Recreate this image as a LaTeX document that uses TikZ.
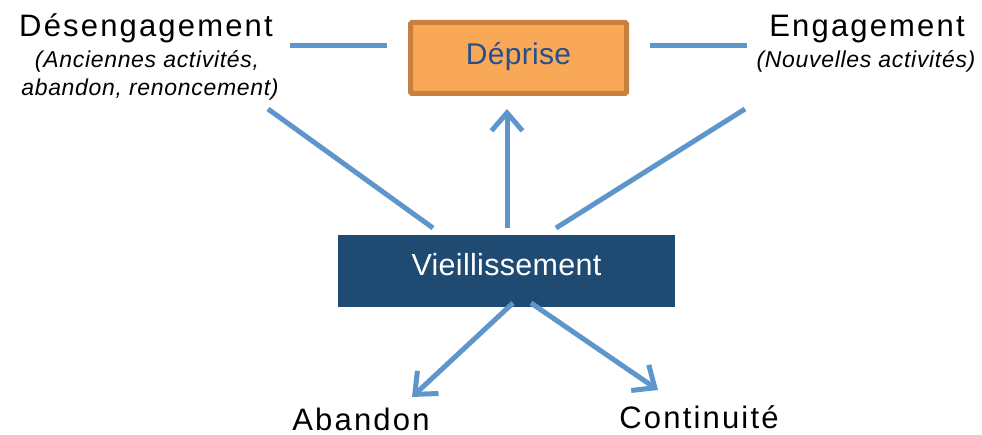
\documentclass[tikz,border=0pt]{standalone}
\usepackage{fontspec}
\setmainfont{Liberation Sans}
\newfontfamily\titlefont[LetterSpace=7]{Liberation Sans}
\newfontfamily\subfont[LetterSpace=3]{Liberation Sans}
\newfontfamily\boxfont[LetterSpace=1]{Liberation Sans}
\usetikzlibrary{arrows.meta}
\definecolor{linkblue}{HTML}{5E96CC}
\definecolor{boxorange}{HTML}{F8A857}
\definecolor{boxorangeb}{HTML}{C8803F}
\definecolor{boxnavy}{HTML}{1F4A72}
\definecolor{textblue}{HTML}{27508A}
\tikzset{
  link/.style={draw=linkblue,line width=5pt},
  arrowlink/.style={link,-{Straight Barb[length=18pt,width=31pt,line width=5pt]}},
  titletext/.style={font=\titlefont\fontsize{31}{34}\selectfont,anchor=base,inner sep=0pt},
  subtext/.style={font=\subfont\itshape\fontsize{23}{28}\selectfont,anchor=base,inner sep=0pt},
  orangebox/.style={draw=boxorangeb,fill=boxorange,line width=5pt,rounded corners=1.5pt,
    minimum width=216pt,minimum height=71pt,text=textblue,text depth=9.5pt,
    font=\boxfont\fontsize{30}{32}\selectfont},
  navybox/.style={fill=boxnavy,minimum width=337pt,minimum height=72pt,text=white,
    text depth=14pt,font=\boxfont\fontsize{30.5}{32}\selectfont}
}
\begin{document}
\begin{tikzpicture}[x=1pt,y=-1pt]
\useasboundingbox (0,0) rectangle (982,435);
% boxes
\node[orangebox] (deprise) at (518.5,58) {Déprise};
\node[navybox] (vieil) at (506.5,271) {Vieillissement};
% texts
\node[titletext] (des) at (146,37) {Désengagement};
\node[subtext] (des1) at (147,68) {(Anciennes activités,};
\node[subtext] (des2) at (150,96) {abandon, renoncement)};
\node[titletext] (eng) at (867,37) {Engagement};
\node[subtext] (eng1) at (866,68) {(Nouvelles activités)};
\node[titletext] (aba) at (361,430) {Abandon};
\node[titletext] (con) at (699,428) {Continuité};
% connector end points
\coordinate (hl1) at (290,46);
\coordinate (hl2) at (387,46);
\coordinate (hr1) at (650,46);
\coordinate (hr2) at (747,46);
\coordinate (dl1) at (268,109);
\coordinate (dl2) at (433,228);
\coordinate (dr1) at (745,109);
\coordinate (dr2) at (556,228);
\coordinate (up1) at (507,228);
\coordinate (up2) at (507,109);
\coordinate (ba1) at (513,303);
\coordinate (ba2) at (412,397);
\coordinate (bc1) at (531,303);
\coordinate (bc2) at (658,390);
% connectors
\draw[link] (hl1) -- (hl2);
\draw[link] (hr1) -- (hr2);
\draw[link] (dl1) -- (dl2);
\draw[link] (dr1) -- (dr2);
\draw[arrowlink] (up1) -- (up2);
\draw[arrowlink] (ba1) -- (ba2);
\draw[arrowlink] (bc1) -- (bc2);
\end{tikzpicture}
\end{document}
